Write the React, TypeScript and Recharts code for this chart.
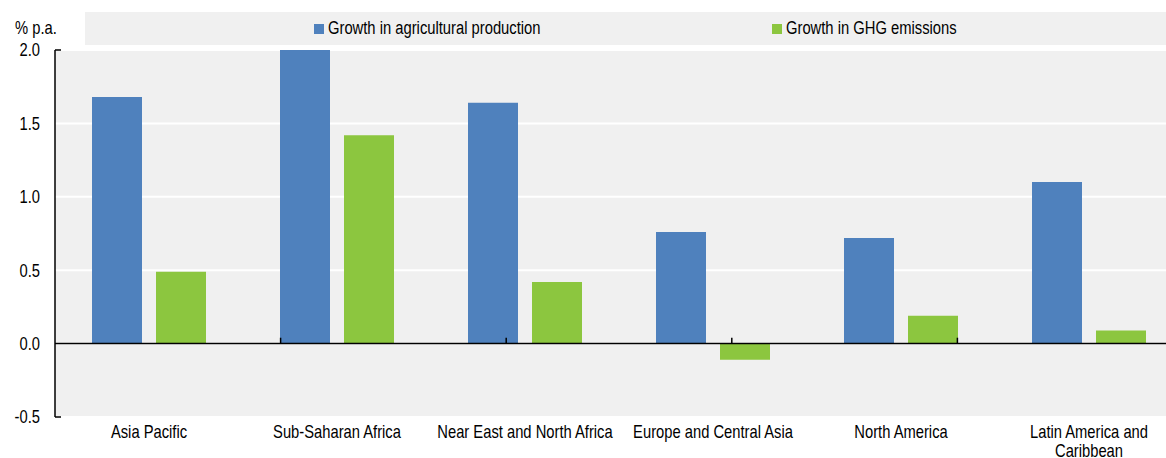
import React from "react";
import { BarChart, Bar, XAxis, YAxis, CartesianGrid, ReferenceLine, Legend } from "recharts";

const categories = [
  "Asia Pacific",
  "Sub-Saharan Africa",
  "Near East and North Africa",
  "Europe and Central Asia",
  "North America",
  "Latin America and Caribbean",
];
const production = [1.68, 2.0, 1.64, 0.76, 0.72, 1.1];
const ghg = [0.49, 1.42, 0.42, -0.11, 0.19, 0.09];
const yTicks = [-0.5, 0, 0.5, 1, 1.5, 2];
const boundaries = [1, 2, 3, 4, 5, 6];

const SERIES = [
  { key: "production", name: "Growth in agricultural production", color: "#4F81BD" },
  { key: "ghg", name: "Growth in GHG emissions", color: "#8CC63F" },
];

const data = categories.map((name, i) => ({ name, production: production[i], ghg: ghg[i] }));

// narrow look: Liberation Sans squeezed horizontally
const FONT = '"Liberation Sans", Arial, sans-serif';
const SQUEEZE = 0.82;

let ctx: CanvasRenderingContext2D | null = null;
function wrap(label: string, maxWidth: number) {
  if (!ctx) {
    ctx = document.createElement("canvas").getContext("2d");
    if (ctx) ctx.font = `18px ${FONT}`;
  }
  const words = label.split(" ");
  const lines: string[] = [];
  let cur = "";
  words.forEach((w) => {
    const next = cur ? cur + " " + w : w;
    const width = ctx ? ctx.measureText(next).width * SQUEEZE : next.length * 8;
    if (cur && width > maxWidth) {
      lines.push(cur);
      cur = w;
    } else {
      cur = next;
    }
  });
  if (cur) lines.push(cur);
  return lines;
}

const YTick = (props: any) => {
  const { x, y, payload } = props;
  const v = payload.value as number;
  const isEnd = v === yTicks[0] || v === yTicks[yTicks.length - 1];
  return (
    <g>
      <text
        transform={`translate(${x},${y}) scale(${SQUEEZE},1)`}
        dy="0.35em"
        textAnchor="end"
        fontFamily={FONT}
        fontSize={18}
        fill="#000"
      >
        {v.toFixed(1)}
      </text>
      {isEnd && <line x1={x + 15} x2={x + 21} y1={y} y2={y} stroke="#000" strokeWidth={1.5} />}
    </g>
  );
};

const XTick = (props: any) => {
  const { x, y, payload } = props;
  const lines = wrap(String(payload.value), 184);
  return (
    <text
      transform={`translate(${x},${y}) scale(${SQUEEZE},1)`}
      textAnchor="middle"
      fontFamily={FONT}
      fontSize={18}
      fill="#000"
    >
      {lines.map((l, i) => (
        <tspan key={i} x={0} dy={i === 0 ? "0.71em" : 19}>
          {l}
        </tspan>
      ))}
    </text>
  );
};

const LegendBox = () => (
  <div style={{ height: 38 }}>
    <div style={{ height: 33, background: "#f0f0f0", position: "relative", fontFamily: FONT, fontSize: 18, color: "#000" }}>
      {SERIES.map((s, i) => (
        <div
          key={s.key}
          style={{
            position: "absolute",
            left: i === 0 ? 229 : 687,
            top: 0,
            height: 33,
            display: "flex",
            alignItems: "center",
            whiteSpace: "nowrap",
          }}
        >
          <span style={{ width: 10, height: 10, background: s.color, marginRight: 4, display: "inline-block" }} />
          <span style={{ display: "inline-block", transform: `scaleX(${SQUEEZE})`, transformOrigin: "left center" }}>
            {s.name}
          </span>
        </div>
      ))}
    </div>
  </div>
);

export default function App() {
  return (
    <div style={{ position: "fixed", left: 0, top: 0, width: 1166, height: 458, overflow: "hidden", background: "#fff" }}>
      <BarChart
        width={1190}
        height={458}
        data={data}
        margin={{ top: 12, right: 7, bottom: 0, left: 0 }}
        barSize={50}
        barGap={14}
      >
        <CartesianGrid vertical={false} fill="#f0f0f0" stroke="#ffffff" strokeWidth={2} />
        <XAxis dataKey="name" height={41} axisLine={false} tickLine={false} tickSize={0} tickMargin={8} tick={<XTick />} interval={0} />
        <XAxis xAxisId="num" type="number" domain={[0, 6]} hide />
        <YAxis
          width={55}
          domain={[-0.5, 2]}
          ticks={yTicks}
          allowDataOverflow
          tickLine={false}
          tickSize={0}
          tickMargin={15}
          axisLine={{ stroke: "#000", strokeWidth: 1.5 }}
          tick={<YTick />}
          label={() => (
            <text transform={`translate(15,34) scale(${SQUEEZE},1)`} fontFamily={FONT} fontSize={18} fill="#000">
              % p.a.
            </text>
          )}
        />
        <Legend
          verticalAlign="top"
          align="left"
          content={() => <LegendBox />}
          wrapperStyle={{ left: 85, top: 12, width: 1105 }}
        />
        {SERIES.map((s) => (
          <Bar key={s.key} dataKey={s.key} name={s.name} fill={s.color} isAnimationActive={false} />
        ))}
        <ReferenceLine y={0} stroke="#000" strokeWidth={1.5} />
        {boundaries.map((b) => (
          <ReferenceLine
            key={b}
            xAxisId="num"
            segment={[{ x: b, y: 0 }, { x: b, y: 0.04 }]}
            stroke="#000"
            strokeWidth={1.5}
          />
        ))}
      </BarChart>
    </div>
  );
}
